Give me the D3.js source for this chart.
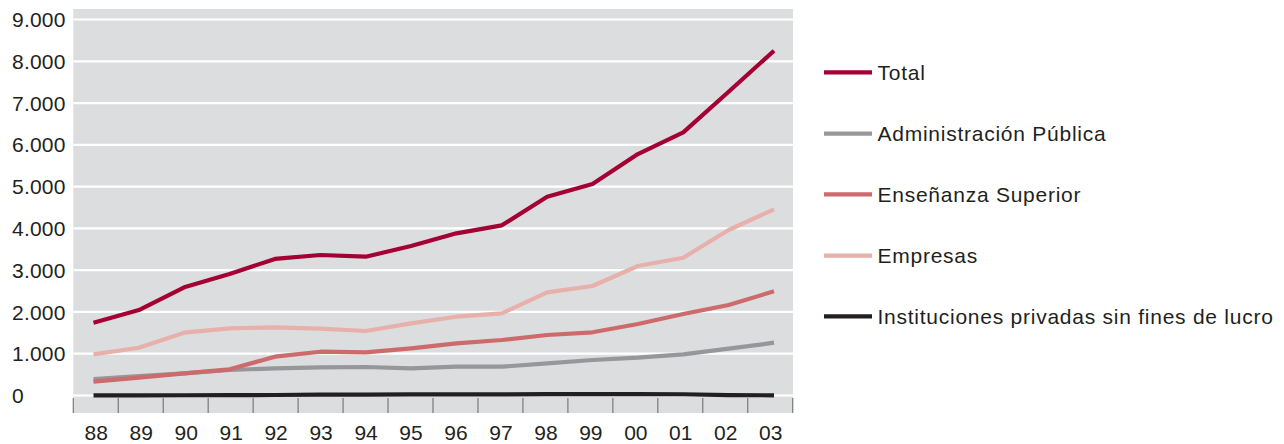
<!DOCTYPE html>
<html><head><meta charset="utf-8">
<script src="https://cdn.jsdelivr.net/npm/d3@7"></script>
<style>
html,body{margin:0;padding:0;background:#fff;}
svg text{font-family:"Liberation Sans",Arial,Helvetica,sans-serif;fill:#231f20;}
</style></head>
<body><svg id="c" width="1284" height="444"></svg>
<script>
const years = ["88","89","90","91","92","93","94","95","96","97","98","99","00","01","02","03"];
const yTicks = [0,1000,2000,3000,4000,5000,6000,7000,8000,9000];
const seriesNames = ["Total","Administración Pública","Enseñanza Superior","Empresas","Instituciones privadas sin fines de lucro"];
const seriesColors = ["#a50034","#97979b","#cc6a6c","#e8b0aa","#231f20"];
const total = [1742,2046,2590,2908,3270,3363,3322,3578,3882,4073,4759,5062,5780,6299,7272,8253];
const admin = [395,467,530,610,651,675,682,651,689,689,771,850,905,986,1120,1264];
const ensenanza = [330,426,531,627,929,1048,1034,1130,1249,1328,1448,1513,1711,1951,2166,2494];
const empresas = [986,1144,1503,1608,1632,1599,1544,1728,1886,1967,2470,2621,3100,3298,3961,4457];
const instituciones = [5,5,6,8,12,20,22,25,28,28,32,33,33,30,8,5];

const seriesData = [total, admin, ensenanza, empresas, instituciones];
const drawOrder = [1,2,3,0,4];

const svg = d3.select("#c");
const fmt = v => d3.format(",")(v).replace(/,/g,".");

const plotL = 73.3, plotR = 793, plotT = 9, plotB = 413;
const y = d3.scaleLinear().domain([0,9000]).range([395.5,19.5]);
const xBand = d3.scaleBand().domain(years).range([plotL, 792.7]);
const xPt = d3.scalePoint().domain(years).range([93.5, 774]);

svg.append("rect").attr("x",plotL).attr("y",plotT).attr("width",plotR-plotL).attr("height",plotB-plotT).attr("fill","#dcdddf");

// gridlines
svg.append("g").selectAll("line").data(yTicks).join("line")
  .attr("x1",plotL).attr("x2",plotR)
  .attr("y1",d=>y(d)).attr("y2",d=>y(d))
  .attr("stroke","#fff").attr("stroke-width",2.2);

// y labels
svg.append("g").selectAll("text").data(yTicks).join("text")
  .attr("x",12).attr("y",d=>y(d)).attr("dy","0.36em")
  .attr("font-size",21).attr("letter-spacing","0.2px").text(d=>fmt(d));

// x ticks at band boundaries
const tickPos = years.map(d=>xBand(d)).concat([xBand.range()[1]]);
svg.append("g").selectAll("line").data(tickPos).join("line")
  .attr("x1",d=>d).attr("x2",d=>d).attr("y1",398).attr("y2",plotB)
  .attr("stroke","#7a7a7c").attr("stroke-width",1.2);

// x labels
svg.append("g").selectAll("text").data(years).join("text")
  .attr("x",d=>xBand(d)+xBand.bandwidth()/2+0.5).attr("y",432).attr("dy","0.36em")
  .attr("text-anchor","middle").attr("font-size",21).text(d=>d);

// lines
const line = d3.line().x((d,i)=>xPt(years[i])).y(d=>y(d));
svg.append("g").selectAll("path").data(drawOrder).join("path")
  .attr("d",k=>line(seriesData[k]))
  .attr("fill","none").attr("stroke",k=>seriesColors[k])
  .attr("stroke-width",4.2).attr("stroke-linejoin","round");

// legend
const legY = [72.3,133.7,194.3,255.7,316.3];
const leg = svg.append("g").selectAll("g").data(seriesNames).join("g")
  .attr("transform",(d,i)=>`translate(0,${legY[i]})`);
leg.append("line").attr("x1",824).attr("x2",872).attr("y1",0).attr("y2",0)
  .attr("stroke",(d,i)=>seriesColors[i]).attr("stroke-width",4.2);
leg.append("text").attr("x",877.5).attr("y",0).attr("dy","0.36em")
  .attr("font-size",21).attr("letter-spacing","0.75px").text(d=>d);
</script></body></html>
